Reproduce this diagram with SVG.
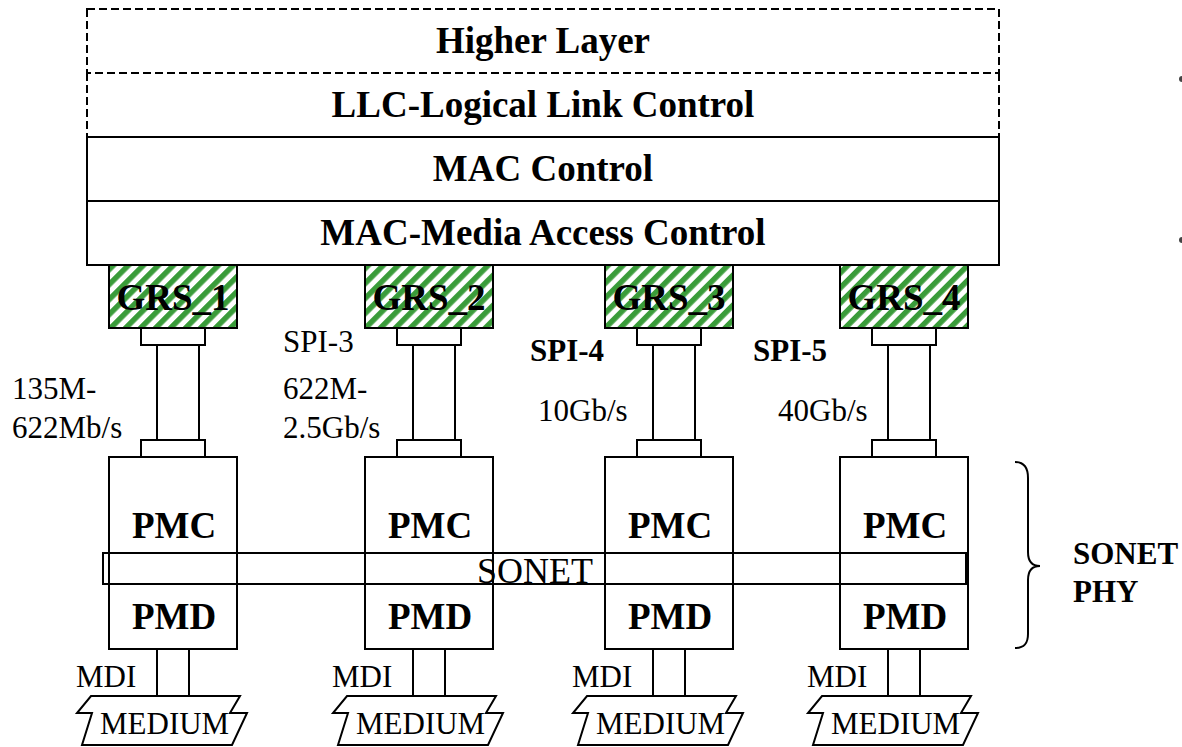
<svg xmlns="http://www.w3.org/2000/svg" width="1182" height="747" viewBox="0 0 1182 747">
<defs>
<style>
.box{fill:#fff;stroke:#000;stroke-width:2}
.dash{fill:none;stroke:#000;stroke-width:2;stroke-dasharray:8 4}
.ln{fill:none;stroke:#000;stroke-width:2}
.b{font-family:"Liberation Serif","Times New Roman",serif;font-weight:bold;font-size:37px;text-anchor:middle;fill:#000}
.bs{font-family:"Liberation Serif","Times New Roman",serif;font-weight:bold;font-size:31px;fill:#000}
.r{font-family:"Liberation Serif","Times New Roman",serif;font-size:31px;fill:#000}
.grs{fill:url(#hatch);stroke:#000;stroke-width:2}
</style>
<pattern id="hatch" patternUnits="userSpaceOnUse" width="10.6" height="10.6" patternTransform="rotate(45)">
<rect width="10.6" height="10.6" fill="#fff"/>
<rect width="5.5" height="10.6" fill="#3a9c3a"/>
</pattern>
<g id="pipe">
<rect class="box" x="0" y="0" width="64" height="17"/>
<rect class="box" x="16" y="17" width="42" height="95"/>
<rect class="box" x="0" y="112" width="64" height="17"/>
</g>
<path id="medium" class="box" d="M91,696 L240,696 L230,713 L247,713 L232,745 L82,745 L92,713 L77,713 Z"/>
</defs>

<g id="higher-layer">
<rect class="dash" x="87" y="9" width="912" height="64"/>
<text class="b" x="543" y="53">Higher Layer</text>
</g>
<g id="llc">
<path class="dash" d="M87,73 V137 M999,73 V137"/>
<text class="b" x="543" y="117">LLC-Logical Link Control</text>
</g>
<g id="mac-control">
<rect class="box" x="87" y="137" width="912" height="64"/>
<text class="b" x="543" y="181">MAC Control</text>
</g>
<g id="mac">
<rect class="box" x="87" y="201" width="912" height="64"/>
<text class="b" x="543" y="245">MAC-Media Access Control</text>
</g>

<g id="grs1"><rect class="grs" x="109" y="265" width="128" height="63"/><text class="b" x="173" y="310">GRS_1</text></g>
<g id="grs2"><rect class="grs" x="365" y="265" width="128" height="63"/><text class="b" x="429" y="310">GRS_2</text></g>
<g id="grs3"><rect class="grs" x="605" y="265" width="128" height="63"/><text class="b" x="669" y="310">GRS_3</text></g>
<g id="grs4"><rect class="grs" x="840" y="265" width="128" height="63"/><text class="b" x="904" y="310">GRS_4</text></g>

<g id="connectors">
<use href="#pipe" x="141" y="328"/>
<use href="#pipe" x="397" y="328"/>
<use href="#pipe" x="637" y="328"/>
<use href="#pipe" x="872" y="328"/>
<rect class="box" x="157" y="649" width="32" height="47"/>
<rect class="box" x="413" y="649" width="32" height="47"/>
<rect class="box" x="653" y="649" width="32" height="47"/>
<rect class="box" x="888" y="649" width="32" height="47"/>
</g>

<g id="phy1"><rect class="box" x="109" y="457" width="128" height="192"/><text class="b" x="174" y="538">PMC</text><text class="b" x="174" y="629">PMD</text></g>
<g id="phy2"><rect class="box" x="365" y="457" width="128" height="192"/><text class="b" x="430" y="538">PMC</text><text class="b" x="430" y="629">PMD</text></g>
<g id="phy3"><rect class="box" x="605" y="457" width="128" height="192"/><text class="b" x="670" y="538">PMC</text><text class="b" x="670" y="629">PMD</text></g>
<g id="phy4"><rect class="box" x="840" y="457" width="128" height="192"/><text class="b" x="905" y="538">PMC</text><text class="b" x="905" y="629">PMD</text></g>

<g id="sonet">
<rect class="ln" x="103" y="553" width="863" height="31"/>
<text x="477" y="583" style="font-family:'Liberation Serif','Times New Roman',serif;font-size:36px">SONET</text>
</g>

<g id="medium1"><use href="#medium"/><text class="r" x="100" y="734">MEDIUM</text></g>
<g id="medium2"><use href="#medium" x="256"/><text class="r" x="356" y="734">MEDIUM</text></g>
<g id="medium3"><use href="#medium" x="496"/><text class="r" x="596" y="734">MEDIUM</text></g>
<g id="medium4"><use href="#medium" x="731"/><text class="r" x="831" y="734">MEDIUM</text></g>

<g id="labels">
<text class="r" x="12" y="399">135M-</text>
<text class="r" x="12" y="438">622Mb/s</text>
<text class="r" x="283" y="352">SPI-3</text>
<text class="r" x="283" y="399">622M-</text>
<text class="r" x="283" y="438">2.5Gb/s</text>
<text class="bs" x="530" y="361">SPI-4</text>
<text class="r" x="538" y="421">10Gb/s</text>
<text class="bs" x="753" y="361">SPI-5</text>
<text class="r" x="778" y="421">40Gb/s</text>
<text class="r" x="76" y="687">MDI</text>
<text class="r" x="332" y="687">MDI</text>
<text class="r" x="572" y="687">MDI</text>
<text class="r" x="807" y="687">MDI</text>
</g>

<g id="sonet-phy">
<path class="ln" d="M1015,462 C1024,462 1028,468 1028,478 L1028,552 C1028,562 1032,566 1040,566 C1032,566 1028,570 1028,580 L1028,634 C1028,644 1024,648 1015,648"/>
<text class="bs" x="1073" y="564">SONET</text>
<text class="bs" x="1073" y="602">PHY</text>
</g>

<g id="edge-marks">
<circle cx="1182" cy="79" r="3" fill="#444"/>
<circle cx="1182" cy="240" r="3" fill="#444"/>
</g>
</svg>
